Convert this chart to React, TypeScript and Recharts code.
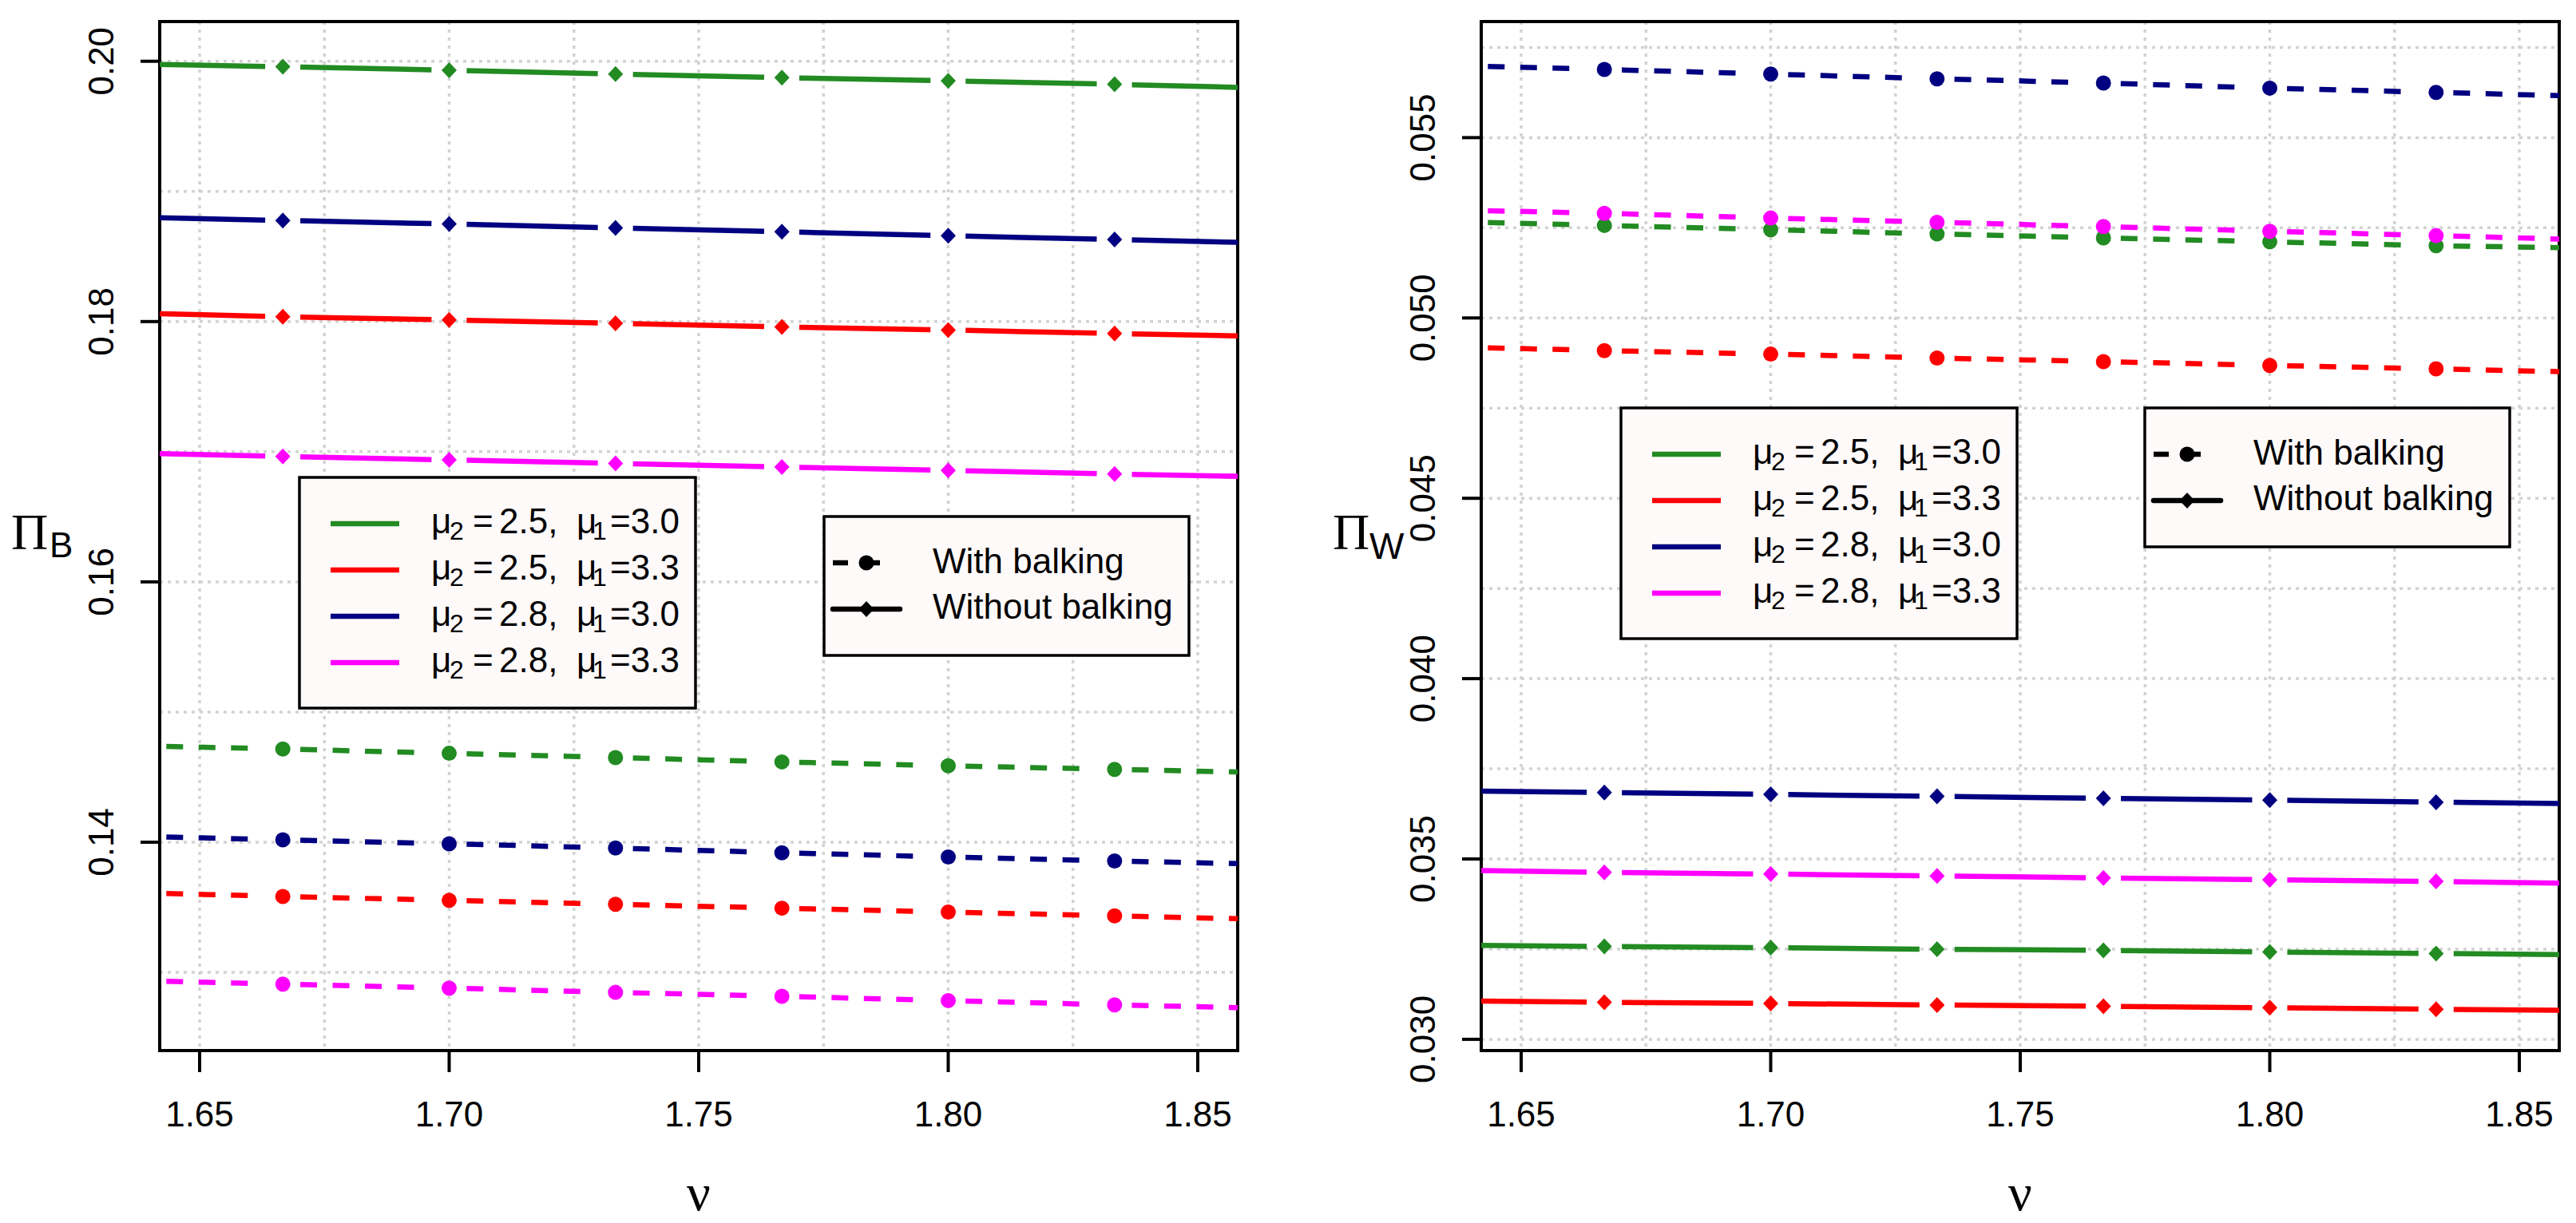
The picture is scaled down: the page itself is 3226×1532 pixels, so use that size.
import React from 'react';
import { LineChart, Line, XAxis, YAxis, CartesianGrid, ReferenceArea } from 'recharts';

// ---------- data ----------
const nuValues = [1.63333, 1.66667, 1.7, 1.73333, 1.76667, 1.8, 1.83333, 1.86667];
const xTicks = [1.65, 1.7, 1.75, 1.8, 1.85];
const xGrid = [1.65, 1.675, 1.7, 1.725, 1.75, 1.775, 1.8, 1.825, 1.85];
const xDomain: [number, number] = [1.642, 1.858];
const markerRange: [number, number] = [1.649, 1.851];

// Pi_B (left panel)
const piB_with_g = [0.14744, 0.14716, 0.14683, 0.1465, 0.14617, 0.14587, 0.1456, 0.14532];
const piB_with_r = [0.13615, 0.13583, 0.13553, 0.13523, 0.13493, 0.13463, 0.13434, 0.13404];
const piB_with_b = [0.1405, 0.14018, 0.13988, 0.13955, 0.13919, 0.13886, 0.13856, 0.13828];
const piB_with_m = [0.12941, 0.12909, 0.12879, 0.12846, 0.12816, 0.12783, 0.1275, 0.12722];
const piB_without_g = [0.19982, 0.19958, 0.19931, 0.19901, 0.19874, 0.1985, 0.19823, 0.19791];
const piB_without_r = [0.18069, 0.18037, 0.18013, 0.17986, 0.17959, 0.17935, 0.17908, 0.17884];
const piB_without_b = [0.18805, 0.18777, 0.1875, 0.1872, 0.1869, 0.1866, 0.1863, 0.18602];
const piB_without_m = [0.16992, 0.16964, 0.16937, 0.1691, 0.16883, 0.16856, 0.16829, 0.16805];
const yTicksB = [0.14, 0.16, 0.18, 0.2];
const yGridB = [0.13, 0.14, 0.15, 0.16, 0.17, 0.18, 0.19, 0.2];
const yDomainB: [number, number] = [0.12399, 0.20305];

// Pi_W (right panel)
const piW_with_g = [0.05268, 0.052565, 0.052448, 0.052328, 0.05222, 0.052112, 0.052003, 0.05193];
const piW_with_r = [0.049207, 0.049095, 0.048997, 0.048889, 0.048791, 0.048685, 0.048588, 0.048484];
const piW_with_b = [0.057009, 0.05689, 0.056762, 0.056631, 0.056512, 0.056372, 0.056253, 0.056136];
const piW_with_m = [0.053003, 0.052902, 0.052771, 0.052652, 0.052534, 0.052404, 0.052284, 0.052153];
const piW_without_g = [0.032615, 0.032574, 0.032541, 0.032497, 0.032466, 0.032421, 0.032379, 0.032336];
const piW_without_r = [0.03107, 0.031027, 0.030994, 0.030952, 0.030918, 0.030876, 0.030832, 0.0308];
const piW_without_b = [0.036891, 0.036844, 0.036791, 0.036736, 0.036683, 0.03663, 0.036574, 0.036527];
const piW_without_m = [0.034694, 0.034628, 0.034583, 0.03453, 0.034475, 0.034422, 0.034378, 0.034312];
const yTicksW = [0.03, 0.035, 0.04, 0.045, 0.05, 0.055];
const yGridW = [0.03, 0.0325, 0.035, 0.0375, 0.04, 0.0425, 0.045, 0.0475, 0.05, 0.0525, 0.055, 0.0575];
const yDomainW: [number, number] = [0.029688, 0.058218];

const seriesKeys = ['g', 'r', 'b', 'm'];
const seriesColors: Record<string, string> = { g: '#228B22', r: '#FF0000', b: '#000080', m: '#FF00FF' };
const legendMu2 = ['2.5', '2.5', '2.8', '2.8'];
const legendMu1 = ['3.0', '3.3', '3.0', '3.3'];
const typeLabels = ['With balking', 'Without balking'];

const dataB = nuValues.map((nu, i) => ({
  nu,
  with_g: piB_with_g[i], with_r: piB_with_r[i], with_b: piB_with_b[i], with_m: piB_with_m[i],
  without_g: piB_without_g[i], without_r: piB_without_r[i], without_b: piB_without_b[i], without_m: piB_without_m[i],
}));
const dataW = nuValues.map((nu, i) => ({
  nu,
  with_g: piW_with_g[i], with_r: piW_with_r[i], with_b: piW_with_b[i], with_m: piW_with_m[i],
  without_g: piW_without_g[i], without_r: piW_without_r[i], without_b: piW_without_b[i], without_m: piW_without_m[i],
}));

// ---------- styling ----------
const SANS = '"Liberation Sans", Arial, Helvetica, sans-serif';
const SERIF = '"Liberation Serif", "Times New Roman", serif';
const PLOT_W = 1350;
const SEG = PLOT_W / (xDomain[1] - xDomain[0]) / 30; // pixel length between successive points
const solidDash = `0 22 ${SEG - 44} 22`;
const dashedDash = `0 22 21 19.5 21 19.5 21 19.5 21 ${SEG - 22 - 84 - 58.5}`;
const LW = 6.5;

const inRange = (v: number) => v >= markerRange[0] && v <= markerRange[1];

const circleDot = (color: string) => (p: any) => {
  if (!p || p.cx == null || !inRange(p.payload.nu)) return <g key={`c${p?.index}`} />;
  return <circle key={`c${p.index}`} cx={p.cx} cy={p.cy} r={9.5} fill={color} stroke="none" />;
};
const diamondDot = (color: string) => (p: any) => {
  if (!p || p.cx == null || !inRange(p.payload.nu)) return <g key={`d${p?.index}`} />;
  const s = 10;
  return (
    <path
      key={`d${p.index}`}
      d={`M${p.cx},${p.cy - s} L${p.cx + s * 0.95},${p.cy} L${p.cx},${p.cy + s} L${p.cx - s * 0.95},${p.cy} Z`}
      fill={color}
      stroke="none"
    />
  );
};

const XTick = (props: any) => {
  const { x, y, payload } = props;
  return (
    <text x={x} y={y + 66} textAnchor="middle" fontFamily={SANS} fontSize={44} fill="#000">
      {Number(payload.value).toFixed(2)}
    </text>
  );
};
const makeYTick = (digits: number) => (props: any) => {
  const { x, y, payload } = props;
  return (
    <text
      x={x}
      y={y}
      transform={`rotate(-90 ${x} ${y})`}
      textAnchor="middle"
      fontFamily={SANS}
      fontSize={44}
      fill="#000"
    >
      {Number(payload.value).toFixed(digits)}
    </text>
  );
};

type PanelProps = {
  data: any[];
  yDomain: [number, number];
  yTicks: number[];
  yGrid: number[];
  digits: number;
  margin: { top: number; right: number; bottom: number; left: number };
};

const Panel = ({ data, yDomain, yTicks, yGrid, digits, margin }: PanelProps) => (
  <LineChart width={1613} height={1532} data={data} margin={margin}>
    <CartesianGrid
      horizontalValues={yGrid}
      verticalValues={xGrid}
      stroke="#d3d3d3"
      strokeWidth={3.5}
      strokeDasharray="4 6"
    />
    <XAxis
      dataKey="nu"
      type="number"
      domain={xDomain}
      allowDataOverflow
      ticks={xTicks}
      interval={0}
      height={100}
      axisLine={false}
      stroke="#000"
      tickLine={{ stroke: '#000', strokeWidth: 4 }}
      tickSize={27}
      tickMargin={2}
      tick={<XTick />}
    />
    <YAxis
      type="number"
      domain={yDomain}
      allowDataOverflow
      ticks={yTicks}
      interval={0}
      width={100}
      axisLine={false}
      stroke="#000"
      tickLine={{ stroke: '#000', strokeWidth: 4 }}
      tickSize={24}
      tickMargin={34}
      tick={makeYTick(digits)}
    />
    {seriesKeys.map((k) => (
      <Line
        key={`without_${k}`}
        dataKey={`without_${k}`}
        type="linear"
        stroke={seriesColors[k]}
        strokeWidth={LW}
        strokeDasharray={solidDash}
        dot={diamondDot(seriesColors[k])}
        activeDot={false}
        isAnimationActive={false}
      />
    ))}
    {seriesKeys.map((k) => (
      <Line
        key={`with_${k}`}
        dataKey={`with_${k}`}
        type="linear"
        stroke={seriesColors[k]}
        strokeWidth={LW}
        strokeDasharray={dashedDash}
        dot={circleDot(seriesColors[k])}
        activeDot={false}
        isAnimationActive={false}
      />
    ))}
    <ReferenceArea
      x1={xDomain[0]}
      x2={xDomain[1]}
      y1={yDomain[0]}
      y2={yDomain[1]}
      fill="none"
      stroke="#000"
      strokeWidth={4}
      ifOverflow="visible"
    />
  </LineChart>
);

const ParamLegend = ({ bx, by }: { bx: number; by: number }) => (
  <g>
    <rect x={bx} y={by} width={496} height={289} fill="#fffafa" stroke="#000" strokeWidth={3.5} />
    {seriesKeys.map((k, i) => {
      const ly = by + 58 + 58 * i;
      const ty = ly + 12;
      return (
        <g key={k}>
          <line x1={bx + 39} x2={bx + 125} y1={ly} y2={ly} stroke={seriesColors[k]} strokeWidth={LW} />
          <text fontFamily={SANS} fontSize={44} fill="#000" y={ty}>
            <tspan x={bx + 165} y={ty}>μ</tspan>
            <tspan x={bx + 188} y={ty + 8} fontSize={32}>2</tspan>
            <tspan x={bx + 217} y={ty}>=</tspan>
            <tspan x={bx + 250} y={ty}>{legendMu2[i]},</tspan>
            <tspan x={bx + 347} y={ty}>μ</tspan>
            <tspan x={bx + 367} y={ty + 8} fontSize={32}>1</tspan>
            <tspan x={bx + 389} y={ty}>={legendMu1[i]}</tspan>
          </text>
        </g>
      );
    })}
  </g>
);

const TypeLegend = ({ bx, by }: { bx: number; by: number }) => {
  const r1 = by + 58;
  const r2 = by + 116;
  const cx = bx + 53;
  const s = 10;
  return (
    <g>
      <rect x={bx} y={by} width={457} height={174} fill="#fffafa" stroke="#000" strokeWidth={3.5} />
      <line x1={bx + 11} x2={bx + 71} y1={r1} y2={r1} stroke="#000" strokeWidth={LW} strokeDasharray="19 21" />
      <circle cx={cx} cy={r1} r={9.5} fill="#000" />
      <line x1={bx + 11} x2={bx + 95} y1={r2} y2={r2} stroke="#000" strokeWidth={LW} strokeLinecap="round" />
      <path d={`M${cx},${r2 - s} L${cx + s * 0.95},${r2} L${cx},${r2 + s} L${cx - s * 0.95},${r2} Z`} fill="#000" />
      <text x={bx + 136} y={r1 + 13} fontFamily={SANS} fontSize={44} fill="#000">{typeLabels[0]}</text>
      <text x={bx + 136} y={r2 + 12} fontFamily={SANS} fontSize={44} fill="#000">{typeLabels[1]}</text>
    </g>
  );
};

export default function App() {
  return (
    <div style={{ position: 'relative', width: 3226, height: 1532, background: '#fff', overflow: 'hidden' }}>
      <style>{'body{margin:0;background:#fff;}'}</style>
      <div style={{ position: 'absolute', left: 0, top: 0 }}>
        <Panel
          data={dataB}
          yDomain={yDomainB}
          yTicks={yTicksB}
          yGrid={yGridB}
          digits={2}
          margin={{ top: 27, right: 63, bottom: 116, left: 100 }}
        />
      </div>
      <div style={{ position: 'absolute', left: 1613, top: 0 }}>
        <Panel
          data={dataW}
          yDomain={yDomainW}
          yTicks={yTicksW}
          yGrid={yGridW}
          digits={3}
          margin={{ top: 27, right: 21, bottom: 116, left: 142 }}
        />
      </div>
      <svg
        width={3226}
        height={1532}
        style={{ position: 'absolute', left: 0, top: 0, pointerEvents: 'none' }}
      >
        <ParamLegend bx={375} by={598} />
        <TypeLegend bx={1032} by={647} />
        <ParamLegend bx={2030} by={511} />
        <TypeLegend bx={2686} by={511} />

        <text x={14} y={688} fontFamily={SERIF} fontSize={64} fill="#000">Π</text>
        <text x={62} y={698} fontFamily={SANS} fontSize={44} fill="#000">B</text>
        <text x={1669} y={688} fontFamily={SERIF} fontSize={64} fill="#000">Π</text>
        <text x={1715} y={700} fontFamily={SANS} fontSize={46} fill="#000">W</text>

        <text x={875} y={1516} textAnchor="middle" fontFamily={SERIF} fontSize={66} fill="#000">ν</text>
        <text x={2530} y={1516} textAnchor="middle" fontFamily={SERIF} fontSize={66} fill="#000">ν</text>
      </svg>
    </div>
  );
}
